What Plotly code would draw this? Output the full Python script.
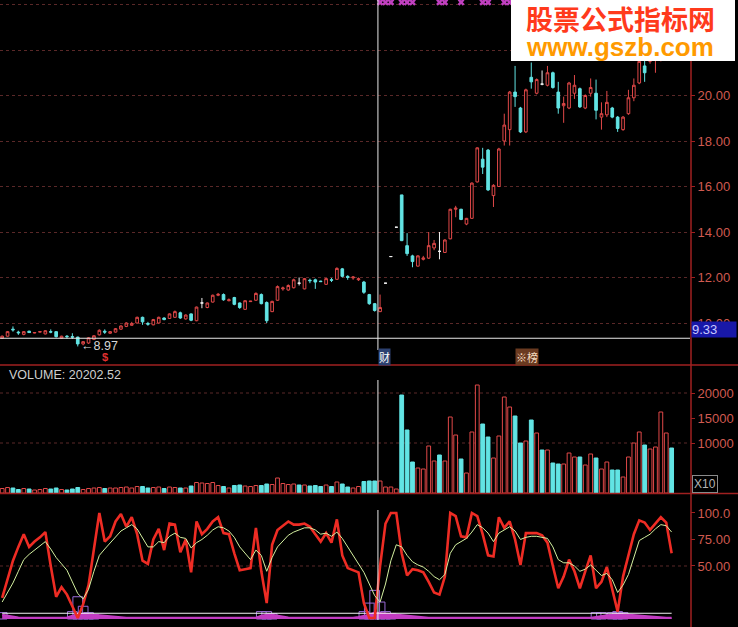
import plotly.graph_objects as go

# ---------------- data ----------------
open_ = [9.33, 9.42, 9.73, 9.60, 9.50, 9.64, 9.56, 9.60, 9.52, 9.62,
         9.62, 9.33, 9.42, 9.40, 9.38, 9.08, 9.12, 9.28, 9.48, 9.64,
         9.55, 9.60, 9.73, 9.85, 9.90, 10.00, 10.25, 9.98, 9.92, 10.00,
         10.22, 10.20, 10.25, 10.45, 10.18, 10.40, 10.10, 10.88, 10.68, 10.92,
         11.22, 11.25, 10.98, 11.12, 10.88, 10.60, 10.94, 11.00, 11.25, 10.90,
         10.50, 11.00, 11.50, 11.45, 11.55, 11.75, 11.50, 11.88, 11.90, 11.84,
         11.70, 11.90, 11.92, 12.38, 12.05, 11.98, 11.90, 11.80, 11.25, 10.85,
         10.50, 11.75, 12.92, 14.21, 15.63, 13.40, 12.95, 12.50, 12.80, 12.85,
         13.30, 13.15, 13.10, 13.70, 15.00, 15.00, 14.35, 14.60, 16.20, 17.20,
         17.60, 15.60, 16.00, 18.00, 18.50, 20.15, 19.45, 18.40, 20.80, 20.10,
         20.50, 20.45, 21.00, 20.15, 19.55, 19.45, 20.10, 20.30, 19.45, 20.10,
         20.10, 19.05, 19.15, 19.45, 19.05, 18.50, 19.20, 19.90, 20.55, 21.30,
         21.50, 21.60, 21.60, 22.40, 22.80]
high = [9.45, 9.65, 9.85, 9.66, 9.64, 9.66, 9.59, 9.63, 9.68, 9.72,
        9.63, 9.44, 9.47, 9.55, 9.40, 9.20, 9.38, 9.46, 9.72, 9.72,
        9.64, 9.78, 9.90, 10.03, 10.05, 10.28, 10.28, 10.05, 10.18, 10.28,
        10.25, 10.42, 10.55, 10.50, 10.38, 10.42, 10.72, 11.10, 10.90, 11.25,
        11.32, 11.30, 11.08, 11.15, 10.90, 11.00, 10.97, 11.35, 11.30, 10.95,
        10.98, 11.65, 11.60, 11.70, 11.95, 12.00, 11.98, 11.95, 11.95, 11.86,
        11.98, 11.98, 12.45, 12.42, 12.10, 12.06, 12.00, 11.85, 11.28, 10.88,
        11.25, 11.75, 12.92, 14.21, 15.63, 13.95, 13.00, 12.98, 12.95, 14.00,
        13.65, 14.00, 13.68, 15.02, 15.15, 15.02, 14.62, 16.18, 17.72, 17.70,
        17.65, 16.10, 17.70, 19.20, 20.20, 21.30, 19.50, 20.30, 21.45, 20.75,
        21.10, 21.30, 21.05, 20.60, 19.95, 20.60, 20.90, 20.35, 20.05, 20.75,
        20.70, 19.70, 20.20, 19.50, 19.10, 19.10, 20.25, 20.75, 21.60, 21.60,
        21.70, 22.20, 22.60, 23.20, 23.10]
low = [9.30, 9.40, 9.62, 9.48, 9.46, 9.56, 9.55, 9.59, 9.50, 9.55,
       9.36, 9.30, 9.32, 9.30, 8.97, 9.02, 9.08, 9.25, 9.45, 9.52,
       9.52, 9.58, 9.70, 9.82, 9.88, 9.98, 9.92, 9.88, 9.90, 9.98,
       10.12, 10.18, 10.22, 10.18, 10.15, 10.08, 10.08, 10.65, 10.65, 10.90,
       11.18, 10.98, 10.95, 10.78, 10.62, 10.58, 10.93, 10.98, 10.82, 10.00,
       10.48, 10.98, 11.42, 11.42, 11.52, 11.65, 11.48, 11.75, 11.50, 11.80,
       11.68, 11.80, 11.90, 12.00, 11.90, 11.90, 11.85, 11.28, 10.80, 10.50,
       10.48, 11.75, 12.92, 14.21, 13.60, 12.95, 12.45, 12.48, 12.75, 12.82,
       13.20, 12.80, 13.08, 13.68, 14.65, 14.52, 14.30, 14.58, 16.18, 16.55,
       15.80, 15.10, 15.98, 17.80, 17.80, 19.50, 18.35, 18.35, 20.30, 20.05,
       20.45, 20.40, 20.30, 19.20, 18.80, 19.40, 19.85, 19.45, 19.40, 19.95,
       18.95, 18.50, 19.05, 19.00, 18.40, 18.45, 19.15, 19.75, 20.50, 20.60,
       21.40, 21.00, 21.50, 22.20, 22.00]
close = [9.42, 9.62, 9.70, 9.57, 9.62, 9.58, 9.58, 9.62, 9.66, 9.60,
         9.40, 9.42, 9.40, 9.38, 9.08, 9.18, 9.35, 9.44, 9.68, 9.60,
         9.62, 9.75, 9.87, 10.00, 9.98, 10.25, 10.05, 9.95, 10.15, 10.25,
         10.15, 10.40, 10.50, 10.22, 10.35, 10.12, 10.70, 10.88, 10.88, 11.22,
         11.26, 11.02, 11.02, 10.82, 10.68, 10.98, 10.96, 11.30, 10.85, 10.10,
         10.95, 11.60, 11.54, 11.65, 11.90, 11.75, 11.95, 11.86, 11.80, 11.82,
         11.95, 11.88, 12.40, 12.05, 12.00, 12.02, 11.94, 11.35, 10.85, 10.55,
         10.68, 11.75, 12.92, 14.21, 13.62, 13.05, 12.70, 12.95, 12.86, 13.40,
         13.50, 13.15, 13.65, 15.00, 15.05, 14.55, 14.60, 16.15, 17.70, 16.85,
         15.85, 16.05, 17.65, 18.70, 20.15, 19.95, 18.40, 20.25, 20.60, 20.70,
         20.50, 21.00, 20.35, 19.45, 19.65, 20.55, 20.45, 19.50, 20.00, 20.35,
         19.35, 19.20, 19.70, 19.05, 18.55, 19.05, 19.90, 20.45, 21.50, 21.00,
         21.60, 22.00, 22.40, 23.00, 22.20]
volume = [900, 1100, 1000, 700, 900, 800, 600, 700, 900, 800,
          1000, 700, 600, 800, 1100, 700, 900, 1000, 1100, 900,
          1000, 1000, 1100, 1200, 1000, 1300, 1300, 1000, 1100, 1200,
          900, 1200, 1100, 1000, 1000, 1400, 2100, 2000, 1900, 2100,
          1500, 1300, 1000, 1500, 1600, 1400, 1300, 1500, 1500, 1800,
          1700, 3000, 1900, 1700, 1800, 1600, 1600, 1400, 1500, 1300,
          1600, 1300, 2200, 1800, 1200, 1000, 1300, 2300, 2400, 2400,
          2400, 1200, 1200, 800, 19600, 12600, 6200, 5000, 4800, 9400,
          6400, 7600, 6400, 15200, 11600, 6800, 4000, 12200, 21600, 13800,
          11200, 7000, 11400, 19200, 17200, 15400, 10000, 10400, 14600, 12000,
          8600, 8600, 6000, 5800, 5800, 8000, 7200, 7200, 5600, 7800,
          7000, 4800, 6200, 4600, 4600, 3200, 7200, 10000, 12200, 9600,
          8800, 9200, 16200, 12000, 9000]
k_line = [20, 38, 55, 68, 80, 68, 73, 77, 82, 50,
          21, 30, 23, 12, 1, 14, 32, 66, 100, 73,
          78, 92, 99, 87, 96, 80, 55, 52, 75, 85,
          65, 90, 89, 63, 75, 44, 92, 80, 85, 92,
          96, 81, 80, 62, 46, 47, 48, 86, 45, 15,
          70, 84, 88, 92, 89, 89, 90, 87, 80, 73,
          81, 72, 94, 60, 48, 46, 44, 15, 1, 1,
          50, 90, 100, 100, 62, 41, 47, 46, 44, 35,
          25, 23, 40, 100, 97, 78, 77, 100, 97, 80,
          60, 59, 96, 86, 92, 75, 51, 81, 81, 81,
          79, 72, 50, 29, 40, 56, 45, 29, 45, 60,
          29, 35, 49, 28, 7, 40, 59, 80, 93, 91,
          84, 90, 96, 91, 62]
d_line = [16, 25, 34, 45, 56, 61, 65, 69, 73, 66,
          58, 52, 46, 35, 24, 19, 28, 45, 60, 66,
          72, 78, 83, 86, 89, 85, 76, 68, 68, 73,
          72, 78, 81, 77, 76, 67, 72, 75, 79, 84,
          87, 86, 83, 77, 68, 62, 56, 65, 60, 45,
          58, 68, 74, 79, 82, 84, 86, 86, 84, 80,
          81, 78, 82, 76, 68, 60, 53, 44, 33, 22,
          16, 33, 55, 70, 68, 60, 54, 51, 49, 45,
          40, 37, 42, 62, 70, 73, 76, 82, 89, 86,
          81, 73, 81, 84, 87, 83, 75, 77, 78, 78,
          77, 76, 68, 56, 53, 53, 50, 45, 47, 51,
          46, 41, 43, 37, 25, 32, 42, 58, 74, 77,
          80, 85, 89, 88, 82]
bottom_fill = [4, 3, 2, 1.5, 1.2, 1.2, 1.2, 1.2, 1.2, 1.2,
               1.2, 1.2, 1.5, 3, 5, 5, 4.5, 4, 3, 2.5,
               2, 1.5, 1.2, 1.2, 1.2, 1.2, 1.2, 1.2, 1.2, 1.2,
               1.2, 1.2, 1.2, 1.2, 1.2, 1.2, 1.2, 1.2, 1.2, 1.2,
               1.2, 1.2, 1.2, 1.2, 1.2, 1.2, 1.2, 1.2, 3, 4,
               4, 3, 2, 1.5, 1.2, 1.2, 1.2, 1.2, 1.2, 1.2,
               1.2, 1.2, 1.2, 1.2, 1.2, 1.2, 2, 3, 4, 6,
               5.5, 5, 4, 3.5, 3, 2.5, 2, 1.5, 1.2, 1.2,
               1.2, 1.2, 1.2, 1.2, 1.2, 1.2, 1.2, 1.2, 1.2, 1.2,
               1.2, 1.2, 1.2, 1.2, 1.2, 1.2, 1.2, 1.2, 1.2, 1.2,
               1.2, 1.2, 1.2, 1.2, 1.2, 1.2, 1.2, 1.2, 1.2, 1.2,
               2, 3, 3.5, 4, 5, 4.5, 4, 3.5, 3, 2.5,
               2, 1.5, 1.2, 1.2, 1.2]
box_idx = [0, 13, 14, 15, 16, 17, 48, 49, 50, 67, 68, 69, 70, 71, 72, 110, 111, 113, 114, 115]
box_val = [6, 7, 21, 12, 6, 4, 7, 7, 5, 7, 15, 27, 16, 7, 5, 6, 6, 6, 7, 6]
doji_idx = [37, 55, 71, 72, 73, 81, 100]
top_mark_idx = [70, 71, 72, 74, 75, 76, 81, 82, 85, 89, 90, 93, 94]
bottom_level = 5.4
last_price = 9.33
cursor_pos = 69.6
event_idx = 95
sell_idx = 19
price_ticks = [10, 12, 14, 16, 18, 20, 22, 24]
price_ticktext = ['10.00', '12.00', '14.00', '16.00', '18.00', '20.00', '', '']  # upper two hidden by watermark
vol_ticks = [10000, 15000, 20000]
vol_grid = [10000, 20000]
ind_ticks = [50, 75, 100]
ind_ticktext = ['50.00', '75.00', '100.0']

# ---------------- styling ----------------
RED = '#e04848'
CYAN = '#62e4e4'
AXIS = '#a02020'
LBL = '#d05a50'
GRID = '#5a2828'
W, H = 738, 627
PW = 690.0

def py(px):  # pixel row -> paper y
    return 1 - px / H

def pxx(px):  # pixel column -> paper x
    return px / PW

N = len(close)
idx = list(range(N))
norm_idx = [i for i in idx if i not in doji_idx]

fig = go.Figure()

fig.add_trace(go.Candlestick(
    x=norm_idx,
    open=[open_[i] for i in norm_idx], high=[high[i] for i in norm_idx],
    low=[low[i] for i in norm_idx], close=[close[i] for i in norm_idx],
    increasing=dict(line=dict(color=RED, width=1), fillcolor='#000000'),
    decreasing=dict(line=dict(color=CYAN, width=1), fillcolor=CYAN),
    xaxis='x', yaxis='y', showlegend=False, hoverinfo='skip'))
fig.add_trace(go.Candlestick(
    x=doji_idx,
    open=[open_[i] for i in doji_idx], high=[high[i] for i in doji_idx],
    low=[low[i] for i in doji_idx], close=[close[i] for i in doji_idx],
    increasing=dict(line=dict(color='#f0f0f0', width=1), fillcolor='#f0f0f0'),
    decreasing=dict(line=dict(color='#f0f0f0', width=1), fillcolor='#f0f0f0'),
    xaxis='x', yaxis='y', showlegend=False, hoverinfo='skip'))

fig.add_trace(go.Scatter(
    x=top_mark_idx, y=[price_ticks[-1] + 0.1] * len(top_mark_idx), mode='markers',
    marker=dict(symbol='x', size=6, color='#c040c0'),
    xaxis='x', yaxis='y', showlegend=False, hoverinfo='skip'))

# volume
up = []
for i in idx:
    if close[i] > open_[i]:
        up.append(True)
    elif close[i] < open_[i]:
        up.append(False)
    else:
        up.append(i > 0 and close[i] > close[i - 1])
fig.add_trace(go.Bar(
    x=idx, y=volume, width=0.7,
    marker=dict(color=['#000000' if u else CYAN for u in up],
                line=dict(color=[RED if u else CYAN for u in up], width=1)),
    xaxis='x', yaxis='y2', showlegend=False, hoverinfo='skip'))

# indicator
fig.add_trace(go.Scatter(
    x=idx, y=bottom_fill, mode='lines', fill='tozeroy',
    line=dict(color='#c23cc2', width=2), fillcolor='#c23cc2',
    xaxis='x', yaxis='y3', showlegend=False, hoverinfo='skip'))
fig.add_trace(go.Bar(
    x=box_idx, y=box_val, width=1.8,
    marker=dict(color='rgba(0,0,0,0)', line=dict(color='#9a6ad8', width=1)),
    xaxis='x', yaxis='y3', showlegend=False, hoverinfo='skip'))
fig.add_trace(go.Scatter(
    x=idx, y=[bottom_level] * N, mode='lines',
    line=dict(color='#f4f4f4', width=1.2),
    xaxis='x', yaxis='y3', showlegend=False, hoverinfo='skip'))
fig.add_trace(go.Scatter(
    x=idx, y=k_line, mode='lines', line=dict(color='#ee2c24', width=2.6),
    xaxis='x', yaxis='y3', showlegend=False, hoverinfo='skip'))
fig.add_trace(go.Scatter(
    x=idx, y=d_line, mode='lines', line=dict(color='#d4f0a0', width=1),
    xaxis='x', yaxis='y3', showlegend=False, hoverinfo='skip'))

tick_font = dict(family='Liberation Sans', size=13, color=LBL)
common_y = dict(side='right', anchor='x', zeroline=False, showline=False,
                ticks='outside', ticklen=4, tickcolor=AXIS, tickfont=tick_font,
                fixedrange=True)

shapes = []
# price panel crosshair + last price line
shapes.append(dict(type='line', xref='paper', x0=0, x1=1, yref='y', y0=last_price, y1=last_price,
                   line=dict(color='#e8e8e8', width=1.2)))
for (a, b) in [(0, 350), (380, 493), (510, 620)]:
    shapes.append(dict(type='line', xref='x', x0=cursor_pos, x1=cursor_pos, yref='paper',
                       y0=py(b), y1=py(a), line=dict(color='#e8e8e8', width=1)))
# volume / indicator grids
for v in vol_grid:
    shapes.append(dict(type='line', xref='paper', x0=0, x1=1, yref='y2', y0=v, y1=v,
                       line=dict(color=GRID, width=1, dash='dot'), layer='below'))
shapes.append(dict(type='line', xref='paper', x0=0, x1=1, yref='y3', y0=50, y1=50,
                   line=dict(color=GRID, width=1, dash='dot'), layer='below'))
# panel separators and right axis line
for r in [365, 493.5]:
    shapes.append(dict(type='line', xref='paper', x0=0, x1=pxx(W), yref='paper', y0=py(r), y1=py(r),
                       line=dict(color=AXIS, width=1.5)))
shapes.append(dict(type='line', xref='paper', x0=pxx(691), x1=pxx(691), yref='paper', y0=0, y1=1,
                   line=dict(color=AXIS, width=1.5)))
# watermark box
shapes.append(dict(type='rect', xref='paper', x0=pxx(511), x1=pxx(735), yref='paper',
                   y0=py(61), y1=1, fillcolor='#ffffff', line=dict(width=0), layer='above'))

low_i = low.index(min(low))
annotations = [
    dict(text='VOLUME: 20202.52', xref='paper', yref='paper', x=pxx(7), y=py(375),
         xanchor='left', yanchor='middle', showarrow=False,
         font=dict(family='Liberation Sans', size=12.5, color='#cfcfcf')),
    dict(text='\u2190' + f'{min(low):.2f}', xref='x', yref='y', x=low_i + 0.3, y=min(low),
         xanchor='left', yanchor='middle', showarrow=False,
         font=dict(family='Liberation Sans', size=12.5, color='#d6d6d6')),
    dict(text=f'{last_price:.2f}', xref='paper', yref='y', x=pxx(691), y=last_price,
         xanchor='left', yanchor='bottom', showarrow=False, align='left',
         width=44, height=15, borderpad=0, bgcolor='#1818a8',
         font=dict(family='Liberation Sans', size=13, color='#c8c8ff')),
    dict(text='X10', xref='paper', yref='paper', x=pxx(692), y=py(484),
         xanchor='left', yanchor='middle', showarrow=False,
         bordercolor='#8a8a8a', borderwidth=1, borderpad=1,
         font=dict(family='Liberation Sans', size=12, color='#b4b4b4')),
    dict(text='财', xref='x', yref='paper', x=cursor_pos, y=py(357),
         xanchor='left', yanchor='middle', showarrow=False, bgcolor='#2c4070',
         borderpad=0, font=dict(family='Noto Sans CJK SC', size=11, color='#ffffff')),
    dict(text='※榜', xref='x', yref='paper', x=event_idx, y=py(357),
         xanchor='left', yanchor='middle', showarrow=False, bgcolor='#6a3a20',
         borderpad=0, font=dict(family='Noto Sans CJK SC', size=11, color='#f4dcc0')),
    dict(text='<b>$</b>', xref='x', yref='paper', x=sell_idx, y=py(357),
         xanchor='center', yanchor='middle', showarrow=False,
         font=dict(family='Liberation Sans', size=11, color='#e03030')),
    dict(text='<b>股票公式指标网</b>', xref='paper', yref='paper', x=pxx(620), y=py(19),
         xanchor='center', yanchor='middle', showarrow=False,
         font=dict(family='Noto Sans CJK SC', size=27, color='#ff3a1c')),
    dict(text='<b>www.gszb.com</b>', xref='paper', yref='paper', x=pxx(620), y=py(47),
         xanchor='center', yanchor='middle', showarrow=False,
         font=dict(family='Liberation Sans', size=26, color='#ff9a00')),
]

fig.update_layout(
    width=W, height=H, margin=dict(l=0, r=W - PW, t=0, b=0),
    paper_bgcolor='#000000', plot_bgcolor='#000000',
    showlegend=False, barmode='overlay', hovermode=False,
    xaxis=dict(range=[-0.4, 127.4], showticklabels=False, showgrid=False, zeroline=False,
               showline=False, ticks='', rangeslider=dict(visible=False), fixedrange=True),
    yaxis=dict(domain=[py(365), 1], range=[8.154, 24.198],
               tickvals=price_ticks, ticktext=price_ticktext,
               showgrid=True, gridcolor=GRID, griddash='dot', gridwidth=1, **common_y),
    yaxis2=dict(domain=[py(493), py(365)], range=[0, 25600],
                tickvals=vol_ticks, ticktext=[str(v) for v in vol_ticks],
                showgrid=False, **common_y),
    yaxis3=dict(domain=[py(622), py(494)], range=[-2.83, 117.9],
                tickvals=ind_ticks, ticktext=ind_ticktext,
                showgrid=False, **common_y),
    shapes=shapes, annotations=annotations,
)

fig.write_html('out.html', config={'displayModeBar': False},
               post_script="document.body.style.margin='0px';document.body.style.overflow='hidden';")
